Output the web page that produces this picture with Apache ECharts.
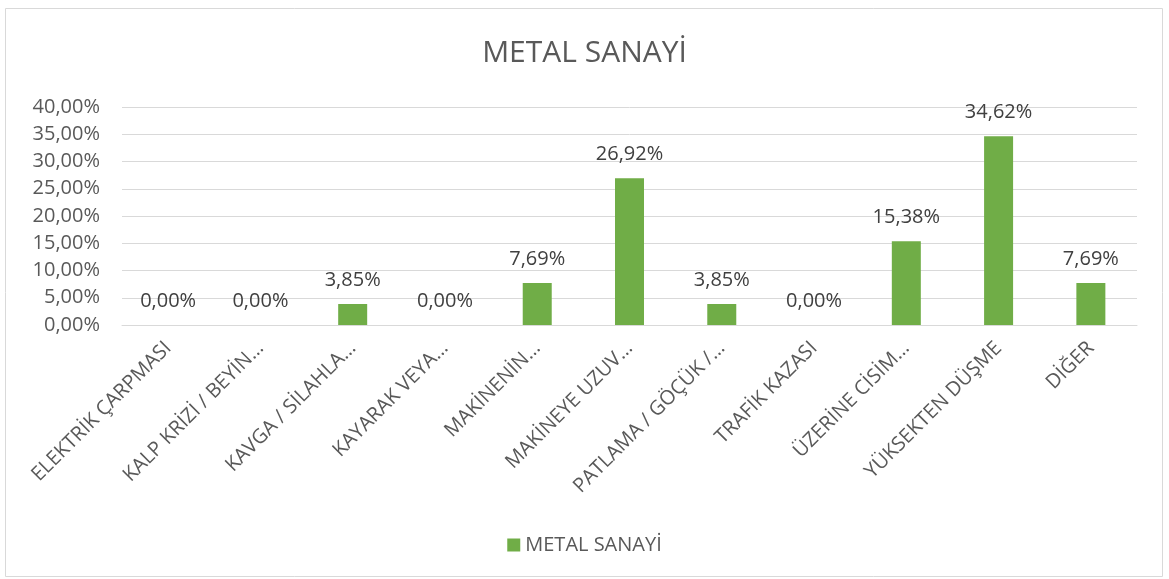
<!DOCTYPE html>
<html>
<head>
<meta charset="utf-8">
<script src="https://cdn.jsdelivr.net/npm/echarts@6/dist/echarts.min.js"></script>
<style>
  html, body { margin: 0; padding: 0; background: #fff; }
  #chart { width: 1169px; height: 579px; }
</style>
</head>
<body>
<div id="chart"></div>
<script>
const categories = [
  'ELEKTRİK ÇARPMASI',
  'KALP KRİZİ / BEYİN…',
  'KAVGA / SİLAHLA…',
  'KAYARAK VEYA…',
  'MAKİNENİN…',
  'MAKİNEYE UZUV…',
  'PATLAMA / GÖÇÜK /…',
  'TRAFİK KAZASI',
  'ÜZERİNE CİSİM…',
  'YÜKSEKTEN DÜŞME',
  'DİĞER'
]
const values = [0, 0, 3.85, 0, 7.69, 26.92, 3.85, 0, 15.38, 34.62, 7.69]
const seriesName = 'METAL SANAYİ'

const fontFamily = '"Open Sans", "Noto Sans", sans-serif'
const pct = (v) => v.toFixed(2).replace('.', ',') + '%'

const chart = echarts.init(document.getElementById('chart'))
chart.setOption({
  animation: false,
  textStyle: { fontFamily },
  graphic: [{
    type: 'rect',
    shape: { x: 5.5, y: 8.5, width: 1157, height: 568 },
    style: { fill: 'none', stroke: '#d9d9d9', lineWidth: 1 },
    silent: true
  }],
  title: {
    text: seriesName,
    left: 'center',
    top: 33,
    textStyle: { fontFamily, fontSize: 30, fontWeight: 'normal', color: '#595959' }
  },
  legend: {
    data: [seriesName],
    bottom: 19,
    left: 'center',
    itemWidth: 13,
    itemHeight: 13,
    itemGap: 6,
    icon: 'rect',
    textStyle: { fontFamily, fontSize: 20, color: '#595959' }
  },
  grid: { left: 122, right: 32, top: 107, bottom: 254 },
  xAxis: {
    type: 'category',
    data: categories,
    axisLine: { lineStyle: { color: '#d9d9d9' } },
    axisTick: { show: false },
    axisLabel: {
      interval: 0,
      rotate: 45,
      margin: 20,
      fontFamily,
      fontSize: 20,
      color: '#595959'
    }
  },
  yAxis: {
    type: 'value',
    min: 0,
    max: 40,
    interval: 5,
    axisLine: { show: false },
    axisTick: { show: false },
    splitLine: { lineStyle: { color: '#d9d9d9' } },
    axisLabel: {
      margin: 22,
      fontFamily,
      fontSize: 20,
      color: '#595959',
      formatter: (v) => pct(v)
    }
  },
  series: [{
    name: seriesName,
    type: 'bar',
    data: values,
    barWidth: 29,
    itemStyle: { color: '#70ad47' },
    label: {
      show: true,
      position: 'top',
      distance: 14,
      fontFamily,
      fontSize: 20,
      color: '#404040',
      formatter: (p) => pct(p.value)
    }
  }]
})
</script>
</body>
</html>
